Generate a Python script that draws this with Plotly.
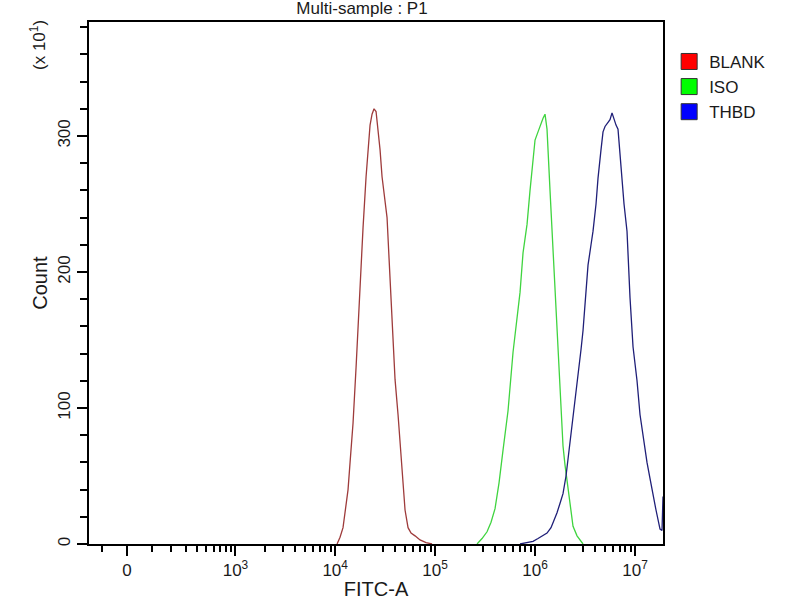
import numpy as np
import plotly.graph_objects as go

# biexponential (arcsinh) display of the FITC-A channel
COFACTOR = 166.0


def biex(v):
    return np.arcsinh(np.asarray(v, dtype=float) / COFACTOR) / np.log(10)


# histogram outlines: FITC-A value, count (x10)
blank_fitc = [10450, 11190, 11990, 12850, 13460, 14100, 15100, 16190, 16950, 18160,
              19020, 20380, 21330, 22340, 23390, 24490, 25650, 26860, 28120, 29450,
              30830, 33040, 34600, 36230, 37940, 39720, 42570, 44570, 47760, 50010,
              53590, 57420, 62960, 70640, 81110, 93130]
blank_count = [0, 5, 12, 28, 40, 60, 89, 130, 161, 205,
               233, 270, 292, 308, 316, 320, 318, 306, 290, 270,
               258, 240, 210, 180, 150, 121, 95, 75, 40, 25,
               12, 8, 6, 3, 1, 0]

iso_fitc = [262500, 294500, 330400, 362300, 397200, 435600, 477600, 535900, 601300,
            659300, 706400, 757000, 830000, 889300, 931300, 997900, 1069000, 1146000,
            1200000, 1256000, 1315000, 1409000, 1476000, 1582000, 1695000, 1775000,
            1901000, 1991000, 2085000, 2234000, 2394000, 2625000, 3014000]
iso_count = [0, 4, 9, 16, 26, 45, 69, 98, 141,
             165, 185, 214, 235, 260, 277, 297, 303, 310,
             313, 316, 305, 260, 230, 183, 135, 108,
             72, 58, 47, 28, 13, 6, 0]

thbd_fitc = [706400, 849300, 953000, 1069000, 1200000, 1315000, 1442000, 1546000,
             1656000, 1775000, 1901000, 2037000, 2133000, 2286000, 2394000, 2565000,
             2686000, 2878000, 3014000, 3229000, 3381000, 3623000, 3794000, 4065000,
             4257000, 4561000, 4776000, 5001000, 5237000, 5611000, 5876000, 6153000,
             6443000, 6746000, 7064000, 7397000, 7746000, 8300000, 8894000, 9530000,
             10450000, 11200000, 11720000, 12560000, 13150000, 14100000, 15100000,
             16180000, 17750000, 18580000, 19010000]
thbd_count = [0, 1, 2, 4, 6, 8, 12, 17,
              23, 30, 37, 50, 62, 80, 96, 110,
              125, 143, 157, 185, 205, 220, 230, 250,
              269, 290, 303, 307, 309, 312, 317, 312,
              308, 305, 285, 266, 250, 230, 181, 145,
              120, 95, 84, 68, 60, 48, 35,
              25, 11, 10, 35]

samples = ["BLANK", "ISO", "THBD"]
line_colors = ["#9e3b3b", "#3fd43f", "#1f1f78"]
legend_colors = ["#ff0000", "#00ff00", "#0000ff"]

x_major = [0, 1e3, 1e4, 1e5, 1e6, 1e7]
x_major_text = ["0", "10<sup>3</sup>", "10<sup>4</sup>", "10<sup>5</sup>",
                "10<sup>6</sup>", "10<sup>7</sup>"]
x_minor = [-100] + [m * 100 for m in range(1, 10)] + [
    m * 10 ** k for k in range(3, 7) for m in range(2, 10)
]
x_range = [-165, 19010000]

fig = go.Figure()

series = [(blank_fitc, blank_count), (iso_fitc, iso_count), (thbd_fitc, thbd_count)]
for (xs, ys), name, col in zip(series, samples, line_colors):
    fig.add_trace(
        go.Scatter(
            x=biex(xs),
            y=ys,
            mode="lines",
            line=dict(color=col, width=1.3),
            name=name,
            showlegend=False,
        )
    )

# legend entries drawn as filled squares
for name, col in zip(samples, legend_colors):
    fig.add_trace(
        go.Scatter(
            x=[None],
            y=[None],
            mode="markers",
            name=name,
            marker=dict(symbol="square", size=16, color=col,
                        line=dict(color="#333333", width=1)),
        )
    )

axis_font = dict(family="Liberation Sans, Arial, sans-serif", size=17, color="#1a1a1a")

fig.update_layout(
    width=800,
    height=600,
    plot_bgcolor="white",
    paper_bgcolor="white",
    font=axis_font,
    margin=dict(l=89, r=137, t=22, b=56, autoexpand=False),
    title=dict(
        text="Multi-sample : P1",
        x=362 / 800,
        xanchor="center",
        y=1 - 8 / 600,
        yanchor="middle",
        font=dict(size=17),
    ),
    legend=dict(
        x=1.0107,
        y=0.958,
        xanchor="left",
        yanchor="top",
        font=dict(size=17),
        itemwidth=30,
        tracegroupgap=0,
    ),
    xaxis=dict(
        range=list(biex(x_range)),
        tickmode="array",
        tickvals=list(biex(x_major)),
        ticktext=x_major_text,
        ticks="outside",
        ticklen=10,
        tickwidth=1.5,
        tickcolor="black",
        minor=dict(tickmode="array", tickvals=list(biex(x_minor)), ticks="outside",
                   ticklen=6, tickwidth=1.5, tickcolor="black"),
        showline=True,
        linecolor="black",
        linewidth=1.5,
        mirror=True,
        showgrid=False,
        zeroline=False,
        automargin=False,
        title=dict(text="FITC-A", standoff=4),
    ),
    yaxis=dict(
        range=[0, 383.8],
        tickmode="array",
        tickvals=[0, 100, 200, 300],
        tickangle=-90,
        ticks="outside",
        ticklen=10,
        tickwidth=1.5,
        tickcolor="black",
        minor=dict(dtick=20, ticks="outside", ticklen=7, tickwidth=1.5,
                   tickcolor="black"),
        showline=True,
        linecolor="black",
        linewidth=1.5,
        mirror=True,
        showgrid=False,
        zeroline=False,
        automargin=False,
        title=dict(text="Count", standoff=2),
    ),
    annotations=[
        dict(
            text="(x 10<sup>1</sup>)",
            xref="paper",
            yref="paper",
            x=-51 / 574,
            y=(544 - 45) / 522,
            xanchor="center",
            yanchor="middle",
            textangle=-90,
            showarrow=False,
            font=dict(size=17),
        )
    ],
)

# drop the browser's default body margin so the figure fills the window
fig.write_html(
    "out.html",
    config={"displayModeBar": False},
    post_script="document.body.style.margin = '0px';",
)
